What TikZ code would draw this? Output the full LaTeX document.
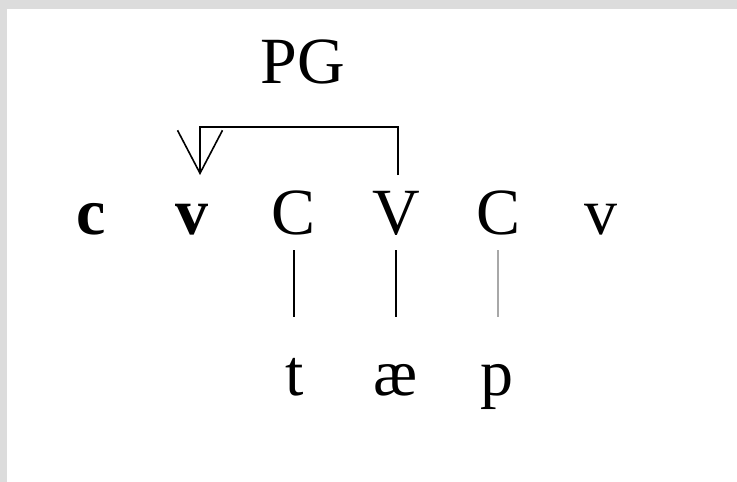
\documentclass[tikz,border=0pt]{standalone}
\usepackage{fontspec}
\setmainfont{Liberation Serif}
\usetikzlibrary{arrows.meta}
\tikzset{
    >={Straight Barb[length=43pt,width=45pt,line width=1.6pt]}
}

\begin{document}
\begin{tikzpicture}[x=1pt,y=-1pt]
  % colours of frame and the faint association line
  \definecolor{frameGray}{RGB}{220,220,220}
  \definecolor{faintLine}{RGB}{168,168,168}

  % common styles for segments and association lines
  \tikzset{
    seg/.style={anchor=base, inner sep=0pt, font=\fontsize{66}{66}\selectfont},
    assoc/.style={line width=1.6pt, shorten <=16pt, shorten >=78pt}
  }

  % gray border on top and left
  \fill[frameGray] (0,0) rectangle (737,482);
  \fill[white] (7,9) rectangle (737,482);
  \useasboundingbox (0,0) rectangle (737,482);

  % skeletal tier
  \node[seg] (c1) at (91,234)  {\textbf{c}};
  \node[seg] (v1) at (192,234) {\textbf{v}};
  \node[seg] (C1) at (294,234) {C};
  \node[seg] (V1) at (396,234) {V};
  \node[seg] (C2) at (499,234) {C};
  \node[seg] (v2) at (601,234) {v};

  % melodic tier
  \node[seg] (t)  at (295,395) {t};
  \node[seg] (ae) at (396,395) {æ};
  \node[seg] (p)  at (497,395) {p};

  % label of the government relation
  \node[seg] (pg) at (303,83) {PG};

  % proper government, V governs v
  \draw[->, line width=1.6pt] ([shift={(2,-59)}]V1.base) |- ([shift={(8,-107)}]v1.base)
    -- ([shift={(8,-59)}]v1.base);

  % associations
  \draw[assoc] (C1.base) -- (C1.base |- t.base);
  \draw[assoc] (V1.base) -- (V1.base |- ae.base);
  \draw[assoc, draw=faintLine] ([xshift=-1pt]C2.base) -- ([xshift=-1pt]C2.base |- p.base);
\end{tikzpicture}
\end{document}
